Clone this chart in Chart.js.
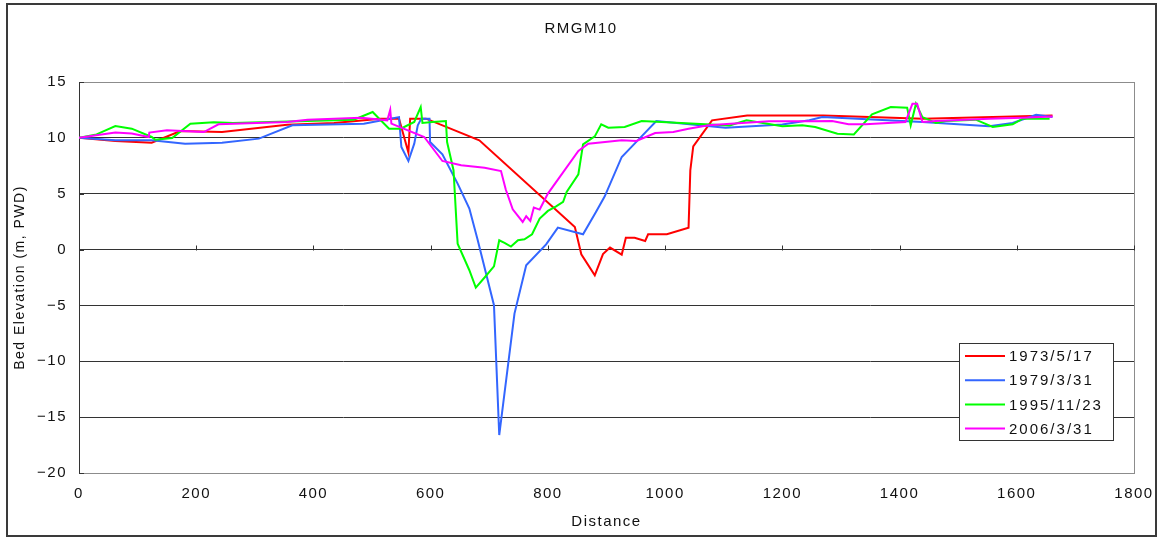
<!DOCTYPE html>
<html>
<head>
<meta charset="utf-8">
<title>RMGM10</title>
<script src="https://cdn.jsdelivr.net/npm/chart.js@4.4.1/dist/chart.umd.min.js"></script>
<style>
  html, body { margin: 0; padding: 0; background: #ffffff; }
  canvas { display: block; }
</style>
</head>
<body>
<canvas id="profile" width="1159" height="538"></canvas>
<script>
// Survey labels and colours
const surveyLabels = ['1973/5/17', '1979/3/31', '1995/11/23', '2006/3/31'];
const surveyColors = ['#ff0000', '#3366ff', '#00ff00', '#ff00ff'];

// Cross-section RMGM10: distance (m) and bed elevation (m, PWD) per survey
const dist1973 = [0, 62, 124, 173, 244, 355, 435, 515, 546, 562, 565, 592, 683, 846, 857, 880, 894, 906, 926, 933, 948, 966, 971, 1003, 1040, 1043, 1048, 1080, 1140, 1270, 1440, 1661];
const elev1973 = [10.0, 9.71, 9.57, 10.61, 10.52, 11.18, 11.33, 11.71, 11.72, 8.68, 11.72, 11.72, 9.78, 2.02, -0.42, -2.3, -0.4, 0.18, -0.45, 1.05, 1.05, 0.77, 1.37, 1.37, 1.96, 7.09, 9.24, 11.57, 12.0, 12.0, 11.72, 12.0];

const dist1979 = [0, 62, 124, 181, 244, 307, 364, 486, 515, 546, 550, 562, 572, 578, 584, 598, 599, 620, 646, 666, 680, 708, 717, 743, 763, 797, 817, 860, 882, 897, 926, 948, 985, 1103, 1200, 1246, 1268, 1439, 1553, 1593, 1633, 1661];
const elev1979 = [10.0, 9.78, 9.78, 9.48, 9.57, 9.93, 11.12, 11.27, 11.56, 11.86, 9.18, 7.93, 9.48, 11.12, 11.72, 11.72, 9.63, 8.52, 5.9, 3.67, 0.9, -4.98, -16.6, -5.73, -1.4, 0.47, 1.97, 1.37, 3.37, 4.77, 8.29, 9.48, 11.5, 10.91, 11.2, 11.57, 11.86, 11.42, 11.03, 11.33, 12.07, 11.86];

const dist1995 = [0, 30, 62, 90, 124, 130, 159, 190, 230, 263, 469, 501, 529, 549, 572, 583, 586, 603, 626, 628, 639, 646, 666, 677, 692, 708, 717, 726, 737, 749, 760, 773, 786, 800, 814, 826, 832, 852, 860, 880, 891, 903, 931, 960, 994, 1110, 1139, 1200, 1234, 1256, 1294, 1322, 1353, 1385, 1413, 1419, 1428, 1439, 1462, 1479, 1530, 1559, 1593, 1610, 1656];
const elev1995 = [10.0, 10.31, 11.06, 10.82, 10.08, 9.84, 9.98, 11.27, 11.39, 11.33, 11.63, 12.31, 10.82, 10.82, 11.42, 12.76, 11.33, 11.42, 11.5, 9.63, 7.1, 0.53, -1.85, -3.4, -2.5, -1.5, 0.83, 0.6, 0.27, 0.83, 0.92, 1.37, 2.77, 3.46, 3.87, 4.27, 5.16, 6.74, 9.42, 10.13, 11.21, 10.91, 10.97, 11.5, 11.42, 11.1, 11.57, 11.03, 11.12, 10.97, 10.37, 10.31, 12.1, 12.76, 12.7, 11.12, 13.06, 11.86, 11.33, 11.5, 11.63, 10.97, 11.21, 11.72, 11.72];

const dist2006 = [0, 62, 90, 119, 120, 150, 213, 238, 355, 390, 481, 526, 531, 533, 589, 620, 652, 692, 720, 728, 740, 757, 763, 770, 776, 786, 800, 852, 869, 926, 951, 983, 1014, 1040, 1074, 1131, 1177, 1245, 1285, 1313, 1342, 1410, 1422, 1430, 1439, 1462, 1553, 1610, 1661];
const elev2006 = [10.0, 10.47, 10.38, 10.08, 10.47, 10.67, 10.52, 11.21, 11.42, 11.63, 11.8, 11.57, 12.5, 11.27, 10.08, 7.93, 7.54, 7.33, 7.03, 5.4, 3.6, 2.47, 2.98, 2.56, 3.76, 3.58, 5.01, 8.83, 9.48, 9.78, 9.72, 10.43, 10.52, 10.82, 11.12, 11.33, 11.48, 11.48, 11.5, 11.21, 11.21, 11.42, 13.06, 13.06, 11.42, 11.5, 11.72, 11.8, 11.92];

// Axis tick values
const xTickValues = [0, 200, 400, 600, 800, 1000, 1200, 1400, 1600, 1800];
const yTickValues = [-20, -15, -10, -5, 0, 5, 10, 15];

const FONT = "'Liberation Sans', Arial, sans-serif";
const GRID = '#333333';
const FRAME = '#8c8c8c';
const SPACING = '1.5px';

function toPoints(xs, ys) {
  return xs.map((x, i) => ({ x: x, y: ys[i] }));
}

const surveys = [[dist1973, elev1973], [dist1979, elev1979], [dist1995, elev1995], [dist2006, elev2006]];

const datasets = surveys.map((s, i) => ({
  label: surveyLabels[i],
  data: toPoints(s[0], s[1]),
  borderColor: surveyColors[i],
  backgroundColor: surveyColors[i],
  borderWidth: 2,
  pointRadius: 0,
  tension: 0,
  fill: false,
  yAxisID: 'y',
  order: surveys.length - i   // later surveys drawn on top
}));

// Outer frame, plot-area border, inside tick marks and the boxed legend
const decorations = {
  id: 'decorations',
  beforeUpdate(chart) {
    chart.ctx.letterSpacing = SPACING;
  },
  beforeDraw(chart) {
    const c = chart.ctx;
    c.letterSpacing = SPACING;
    c.save();
    c.fillStyle = '#ffffff';
    c.fillRect(0, 0, chart.width, chart.height);
    c.strokeStyle = '#3a3a3a';
    c.lineWidth = 2;
    c.strokeRect(7, 4, 1149, 532);
    c.restore();
  },
  beforeDatasetsDraw(chart) {
    const c = chart.ctx;
    const a = chart.chartArea;
    const xs = chart.scales.x, ys = chart.scales.y;
    c.save();
    // right border of plot area
    c.strokeStyle = FRAME;
    c.lineWidth = 1;
    c.beginPath();
    c.moveTo(Math.round(a.right) + 0.5, a.top);
    c.lineTo(Math.round(a.right) + 0.5, a.bottom);
    c.stroke();
    // tick marks on the horizontal axis (crossing at zero)
    c.strokeStyle = GRID;
    const y0 = Math.round(ys.getPixelForValue(0)) + 0.5;
    c.beginPath();
    xTickValues.forEach(v => {
      const px = Math.round(xs.getPixelForValue(v)) + 0.5;
      c.moveTo(px, y0);
      c.lineTo(px, y0 - 5);
    });
    // tick marks on the vertical axis
    yTickValues.forEach(v => {
      const py = Math.round(ys.getPixelForValue(v)) + 0.5;
      c.moveTo(a.left, py);
      c.lineTo(a.left + 5, py);
    });
    c.stroke();
    c.restore();
  },
  afterDatasetsDraw(chart) {
    const c = chart.ctx;
    const bx = 959.5, by = 343.5, bw = 154, bh = 97;
    c.save();
    c.fillStyle = '#ffffff';
    c.fillRect(bx, by, bw, bh);
    c.strokeStyle = '#333333';
    c.lineWidth = 1;
    c.strokeRect(bx, by, bw, bh);
    c.font = '15px ' + FONT;
    c.letterSpacing = '2px';
    c.textBaseline = 'middle';
    c.textAlign = 'left';
    chart.data.datasets.forEach((ds, i) => {
      const ly = 356 + i * 24.2;
      c.strokeStyle = ds.borderColor;
      c.lineWidth = 2;
      c.beginPath();
      c.moveTo(965, ly);
      c.lineTo(1005, ly);
      c.stroke();
      c.fillStyle = '#111111';
      c.fillText(ds.label, 1009, ly + 1);
    });
    c.restore();
  }
};

function minusLabel(v) {
  return v < 0 ? '\u2212' + Math.abs(v) : String(v);
}

const canvas = document.getElementById('profile');

new Chart(canvas, {
  type: 'line',
  data: { datasets: datasets },
  options: {
    responsive: false,
    devicePixelRatio: 1,
    animation: false,
    events: [],
    layout: { padding: { left: 3, right: 0, top: 0, bottom: 0 } },
    plugins: {
      legend: { display: false },
      tooltip: { enabled: false },
      title: {
        display: true,
        text: 'RMGM10',
        color: '#111111',
        font: { family: FONT, size: 15, weight: 'normal' },
        padding: { top: 20, bottom: 44 }
      }
    },
    scales: {
      x: {
        type: 'linear',
        min: 0,
        max: 1800,
        afterBuildTicks: s => { s.ticks = xTickValues.map(v => ({ value: v })); },
        afterFit: s => { s.height = 65; s.paddingLeft = 0; s.paddingRight = 0; },
        grid: { display: false, drawTicks: false },
        border: { display: true, color: FRAME, width: 1 },
        ticks: {
          padding: 12,
          color: '#111111',
          font: { family: FONT, size: 15 },
          maxRotation: 0,
          callback: v => String(v)
        },
        title: {
          display: true,
          text: 'Distance',
          color: '#111111',
          font: { family: FONT, size: 15 },
          padding: { top: 0, bottom: 7 }
        }
      },
      y: {
        type: 'linear',
        position: 'left',
        min: -20,
        max: 15,
        afterBuildTicks: s => { s.ticks = yTickValues.map(v => ({ value: v })); },
        afterFit: s => { s.width = 76; },
        grid: {
          drawTicks: false,
          lineWidth: 1,
          color: c => (c.tick && (c.tick.value === 15 || c.tick.value === -20)) ? FRAME : GRID
        },
        border: { display: true, color: GRID, width: 1 },
        ticks: {
          padding: 12,
          color: '#111111',
          font: { family: FONT, size: 15 },
          callback: v => minusLabel(v)
        },
        title: {
          display: true,
          text: 'Bed Elevation (m, PWD)',
          color: '#111111',
          font: { family: FONT, size: 14 },
          padding: { top: 9, bottom: 0 }
        }
      },
      // empty right-hand margin that keeps the plot area clear of the frame
      margin: {
        type: 'linear',
        position: 'right',
        min: 0,
        max: 1,
        afterFit: s => { s.width = 25; },
        grid: { display: false, drawTicks: false },
        border: { display: false },
        ticks: { display: false }
      }
    }
  },
  plugins: [decorations]
});
</script>
</body>
</html>
